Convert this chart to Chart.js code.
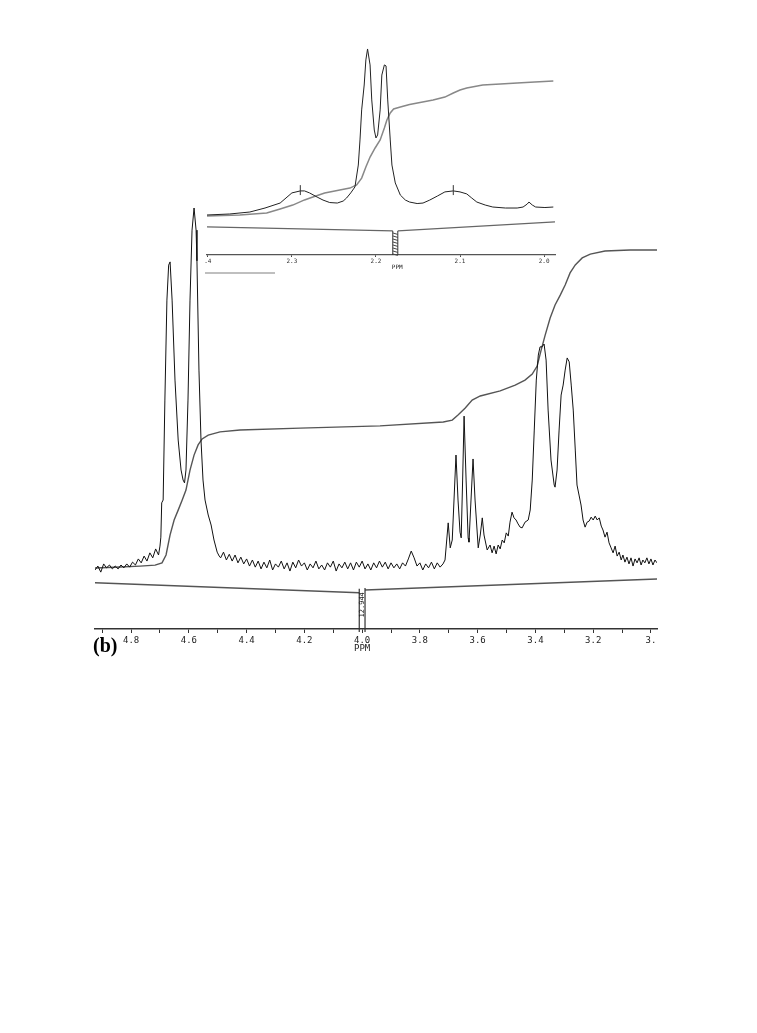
<!DOCTYPE html>
<html>
<head>
<meta charset="utf-8">
<script src="https://cdn.jsdelivr.net/npm/chart.js@4"></script>
<style>
  html, body { margin: 0; padding: 0; background: #ffffff; }
  #wrap { position: relative; width: 757px; height: 1033px; background: #ffffff; }
  canvas { position: absolute; left: 0; top: 0; }
</style>
</head>
<body>
<div id="wrap">
  <canvas id="mainChart" width="757" height="1033"></canvas>
  <canvas id="insetChart" width="757" height="300"></canvas>
</div>
<script>
// ---------------- DATA ----------------
// Main spectrum: [ppm, intensity] (tallest peak = 100)
const mainSpectrum = [
  [4.925,-1.4],[4.915,-0.3],[4.905,-2.0],[4.895,0.3],[4.885,-0.8],[4.875,0.0],[4.865,-1.1],[4.855,-0.3],
  [4.845,-1.1],[4.835,0.0],[4.825,-0.8],[4.815,0.3],[4.805,-0.6],[4.795,0.8],[4.785,0.0],[4.775,1.7],
  [4.765,0.6],[4.755,2.5],[4.745,1.1],[4.735,3.4],[4.725,2.0],[4.715,4.5],[4.705,2.8],[4.700,5.3],
  [4.697,7.8],[4.694,17.4],[4.689,18.2],[4.683,46.2],[4.676,74.2],[4.670,84.0],[4.665,84.9],[4.658,74.2],
  [4.648,51.8],[4.637,35.0],[4.627,26.6],[4.620,23.8],[4.615,23.0],[4.610,26.6],[4.603,46.2],[4.596,74.2],
  [4.589,93.8],[4.582,100.0],[4.575,93.8],[4.572,85.2],[4.565,54.6],[4.558,35.0],[4.551,23.8],[4.544,18.2],
  [4.533,14.0],[4.523,11.2],[4.513,7.0],[4.502,3.6],[4.495,2.5],
  [4.490,2.0],[4.480,3.6],[4.470,1.4],[4.460,3.0],[4.450,1.1],[4.440,2.8],[4.430,0.6],[4.420,2.2],
  [4.410,0.3],[4.400,1.7],[4.390,-0.3],[4.380,1.4],[4.370,-0.6],[4.360,1.1],[4.350,-1.1],[4.340,0.8],
  [4.330,-0.8],[4.320,1.4],[4.310,-1.4],[4.300,0.3],[4.290,-0.6],[4.280,1.1],[4.270,-1.1],[4.260,0.6],
  [4.250,-1.7],[4.240,0.8],[4.230,-0.8],[4.220,1.4],[4.210,-0.3],[4.200,0.6],[4.190,-1.4],[4.180,0.3],
  [4.170,-0.8],[4.160,1.1],[4.150,-1.1],[4.140,0.0],[4.130,-1.4],[4.120,0.6],[4.110,-0.6],[4.100,1.1],
  [4.090,-1.7],[4.080,0.3],[4.070,-0.8],[4.060,0.8],[4.050,-1.1],[4.040,0.6],[4.030,-1.4],[4.020,0.8],
  [4.010,-0.6],[4.000,1.1],[3.990,-1.1],[3.980,0.3],[3.970,-1.4],[3.960,0.6],[3.950,-0.8],[3.940,1.1],
  [3.930,-0.6],[3.920,0.8],[3.910,-1.1],[3.900,0.6],[3.890,-0.8],[3.880,0.3],[3.870,-1.1],[3.860,0.6],
  [3.850,-0.3],[3.840,1.7],[3.830,3.9],[3.820,2.0],[3.810,-0.3],[3.800,0.6],[3.790,-1.4],[3.780,0.3],
  [3.770,-0.8],[3.760,0.8],[3.750,-1.1],[3.740,0.6],[3.730,-0.6],[3.720,0.3],
  [3.713,1.4],[3.702,11.8],[3.695,4.8],[3.688,7.0],[3.675,30.8],[3.668,18.2],[3.661,9.2],[3.657,7.6],
  [3.652,23.8],[3.647,41.7],[3.640,23.8],[3.633,7.6],[3.630,6.4],[3.623,18.2],[3.616,29.7],[3.609,18.2],
  [3.598,4.8],[3.591,8.4],[3.584,13.2],[3.578,8.4],[3.567,4.2],[3.557,5.6],[3.550,3.4],[3.543,5.3],
  [3.536,3.1],[3.529,5.6],[3.522,4.5],[3.515,7.0],[3.508,6.2],[3.501,9.0],[3.494,8.1],[3.488,12.0],
  [3.481,14.8],[3.474,13.2],[3.467,12.6],[3.460,11.5],[3.453,10.6],[3.446,10.4],[3.436,12.0],[3.425,12.6],
  [3.418,15.4],[3.411,23.8],[3.404,37.8],[3.397,51.8],[3.390,58.8],[3.384,61.1],[3.377,61.1],[3.370,61.9],
  [3.363,57.4],[3.356,43.4],[3.346,29.4],[3.335,22.4],[3.332,21.8],[3.325,26.6],[3.318,37.8],[3.311,47.6],
  [3.304,50.4],[3.297,54.6],[3.290,58.0],[3.283,56.9],[3.276,50.4],[3.269,43.4],[3.262,32.2],[3.256,22.4],
  [3.249,19.6],[3.242,16.8],[3.235,12.6],[3.228,10.6],[3.221,12.0],[3.214,12.3],[3.207,13.4],[3.200,12.6],
  [3.193,13.7],[3.186,12.6],[3.179,13.2],[3.172,10.9],[3.166,9.8],[3.159,7.8],[3.152,9.2],[3.145,6.2],
  [3.138,4.8],[3.131,3.4],[3.124,5.3],[3.117,2.5],[3.110,3.6],[3.103,1.4],[3.097,2.8],[3.090,0.8],
  [3.083,2.2],[3.076,0.3],[3.069,2.0],[3.062,-0.3],[3.055,1.7],[3.048,0.6],[3.041,2.0],[3.034,0.0],
  [3.028,1.4],[3.021,0.6],[3.014,2.0],[3.007,0.3],[3.000,1.7],[2.993,0.0],[2.986,1.4],[2.979,0.6]
];
// Main integral trace: [ppm, percent of total]
const mainIntegral = [
  [4.925,0.0],[4.838,0.3],[4.769,0.6],[4.717,0.9],[4.693,1.6],[4.679,4.1],[4.665,10.4],[4.651,15.1],
  [4.637,18.2],[4.623,21.4],[4.610,24.5],[4.596,30.8],[4.582,35.5],[4.568,38.7],[4.554,40.6],[4.533,41.8],
  [4.492,42.8],[4.423,43.4],[4.215,44.0],[3.938,44.7],[3.719,45.9],[3.688,46.5],[3.668,48.1],[3.643,50.3],
  [3.619,52.8],[3.591,54.1],[3.522,55.7],[3.470,57.5],[3.436,59.1],[3.411,61.0],[3.394,63.5],[3.380,68.6],
  [3.366,73.3],[3.349,78.6],[3.332,82.7],[3.314,85.8],[3.297,89.0],[3.280,92.8],[3.262,95.3],[3.238,97.5],
  [3.210,98.7],[3.159,99.7],[3.072,100.0],[2.979,100.0]
];
// Integral reference line (two segments either side of the value box)
const mainIntBaseLeft  = [[4.925,-5.0],[4.010,-7.8]];
const mainIntBaseRight = [[3.990,-7.0],[2.979,-3.9]];
const mainIntegralValue = '12.944';
const mainBoxPpm = [4.010, 3.990];
const mainTickValues = [4.9,4.8,4.7,4.6,4.5,4.4,4.3,4.2,4.1,4.0,3.9,3.8,3.7,3.6,3.5,3.4,3.3,3.2,3.1,3.0];
const mainTickLabels = ['','4.8','','4.6','','4.4','','4.2','','4.0','','3.8','','3.6','','3.4','','3.2','','3.'];
const mainRange = [2.979, 4.925];

// Inset (expanded 2.0-2.4 ppm region)
const insetSpectrum = [
  [2.401,0.0],[2.374,0.6],[2.350,1.8],[2.332,4.2],[2.314,7.2],[2.300,13.3],[2.290,14.5],[2.285,14.5],
  [2.279,13.3],[2.270,10.8],[2.263,9.0],[2.255,7.5],[2.246,7.2],[2.239,8.4],[2.235,10.2],[2.230,13.3],
  [2.225,16.9],[2.221,30.1],[2.219,45.2],[2.217,63.3],[2.214,78.3],[2.212,93.4],[2.210,100.0],[2.207,90.4],
  [2.205,69.3],[2.202,51.2],[2.200,46.4],[2.198,48.2],[2.195,63.3],[2.193,84.3],[2.190,90.4],[2.188,89.8],
  [2.186,69.3],[2.183,45.2],[2.181,30.1],[2.177,19.3],[2.171,12.0],[2.165,9.0],[2.160,7.8],[2.151,6.9],
  [2.144,7.2],[2.136,9.0],[2.127,11.4],[2.118,13.9],[2.108,14.5],[2.100,13.9],[2.092,12.7],[2.086,10.2],
  [2.080,7.8],[2.070,6.0],[2.061,4.8],[2.046,4.2],[2.032,4.2],[2.025,4.8],[2.020,6.6],[2.018,7.8],
  [2.014,6.0],[2.010,4.8],[1.999,4.5],[1.989,4.8]
];
const insetIntegral = [
  [2.401,0.0],[2.362,0.7],[2.330,2.2],[2.314,5.2],[2.299,8.1],[2.285,11.9],[2.275,14.1],[2.261,17.0],
  [2.243,19.3],[2.231,20.7],[2.223,23.0],[2.217,28.1],[2.212,36.3],[2.207,43.7],[2.201,50.4],[2.195,56.3],
  [2.190,65.2],[2.187,71.1],[2.183,76.3],[2.179,79.3],[2.171,80.7],[2.160,82.6],[2.132,85.9],[2.118,88.1],
  [2.108,91.1],[2.100,93.3],[2.092,94.8],[2.073,97.0],[2.052,97.8],[2.032,98.5],[2.011,99.3],[1.989,100.0]
];
const insetIntBaseLeft  = [[2.401,-7.2],[2.180,-9.6]];
const insetIntBaseRight = [[2.174,-9.6],[1.987,-4.2]];
const insetBoxPpm = [2.180, 2.174];
const insetPeakMarks = [2.290, 2.108];
const insetTickValues = [2.4, 2.3, 2.2, 2.1, 2.0];
const insetTickLabels = ['.4', '2.3', '2.2', '2.1', '2.0'];
const insetRange = [1.987, 2.401];

// ---------------- HELPERS ----------------
const pts = arr => arr.map(([x, y]) => ({ x, y }));
const lineDs = (arr, axis, color, width) => ({
  data: pts(arr), yAxisID: axis, borderColor: color, borderWidth: width,
  pointRadius: 0, tension: 0, fill: false
});
const plotFont = 'DejaVu Sans Mono';

// ---------------- MAIN CHART ----------------
const mainDecor = {
  id: 'mainDecor',
  afterDraw(chart) {
    const { ctx, chartArea, scales } = chart;
    const x = scales.x, ys = scales.ySpec;
    const xl = x.getPixelForValue(mainBoxPpm[0]);
    const xr = x.getPixelForValue(mainBoxPpm[1]);
    const bottom = chartArea.bottom;
    ctx.save();
    ctx.strokeStyle = '#333';
    ctx.lineWidth = 1.2;
    ctx.beginPath();
    ctx.moveTo(xl, ys.getPixelForValue(mainIntBaseLeft[1][1]) - 4);
    ctx.lineTo(xl, bottom + 3);
    ctx.moveTo(xr, ys.getPixelForValue(mainIntBaseRight[0][1]) - 2);
    ctx.lineTo(xr, bottom + 3);
    ctx.stroke();
    // integral value, rotated
    ctx.fillStyle = '#222';
    ctx.font = '7px ' + plotFont;
    ctx.translate((xl + xr) / 2 + 0.5, ys.getPixelForValue(-7.8) + 12);
    ctx.rotate(-Math.PI / 2);
    ctx.textAlign = 'center';
    ctx.textBaseline = 'middle';
    ctx.fillText(mainIntegralValue, 0, 0);
    ctx.restore();

    ctx.save();
    ctx.fillStyle = '#222';
    ctx.font = '9px ' + plotFont;
    ctx.textAlign = 'center';
    ctx.textBaseline = 'middle';
    ctx.fillText('PPM', (xl + xr) / 2, bottom + 20);
    ctx.font = 'bold 20px "Liberation Serif"';
    ctx.textAlign = 'left';
    ctx.fillStyle = '#000';
    ctx.fillText('(b)', chartArea.left - 2, bottom + 18);
    ctx.restore();
  }
};

new Chart(document.getElementById('mainChart'), {
  type: 'line',
  data: {
    datasets: [
      lineDs(mainSpectrum, 'ySpec', '#111', 1),
      lineDs(mainIntegral, 'yInt', '#555', 1.4),
      lineDs(mainIntBaseLeft, 'ySpec', '#555', 1.5),
      lineDs(mainIntBaseRight, 'ySpec', '#555', 1.5)
    ]
  },
  options: {
    responsive: false,
    animation: false,
    devicePixelRatio: 1,
    layout: { padding: { left: 95, right: 100, top: 200, bottom: 374 } },
    plugins: { legend: { display: false }, tooltip: { enabled: false } },
    scales: {
      x: {
        type: 'linear', position: 'bottom', reverse: true,
        min: mainRange[0], max: mainRange[1],
        afterBuildTicks: s => { s.ticks = mainTickValues.map(v => ({ value: v })); },
        afterFit: s => { s.height = 30; },
        border: { display: true, color: '#333', width: 1.5 },
        grid: { drawOnChartArea: false, drawTicks: true, tickLength: 4, color: '#333', lineWidth: 1 },
        ticks: {
          autoSkip: false, maxRotation: 0, padding: 2, color: '#222',
          font: { family: plotFont, size: 9 },
          callback: (v, i) => mainTickLabels[i]
        }
      },
      ySpec: { type: 'linear', display: false, min: -17.93, max: 102.24 },
      yInt: { type: 'linear', display: false, min: -19.18, max: 115.72 }
    }
  },
  plugins: [mainDecor]
});

// ---------------- INSET CHART ----------------
const insetDecor = {
  id: 'insetDecor',
  afterDraw(chart) {
    const { ctx, chartArea, scales } = chart;
    const x = scales.x, ys = scales.ySpec;
    const xl = x.getPixelForValue(insetBoxPpm[0]);
    const xr = x.getPixelForValue(insetBoxPpm[1]);
    const top = ys.getPixelForValue(insetIntBaseLeft[1][1]);
    const bottom = chartArea.bottom;
    ctx.save();
    ctx.strokeStyle = '#333';
    ctx.lineWidth = 1;
    ctx.beginPath();
    ctx.moveTo(xl, top); ctx.lineTo(xl, bottom);
    ctx.moveTo(xr, top); ctx.lineTo(xr, bottom);
    ctx.stroke();
    // hatched fill of the tiny box
    ctx.lineWidth = 1;
    ctx.strokeStyle = '#444';
    for (let yy = top + 2; yy < bottom - 1; yy += 3) {
      ctx.beginPath();
      ctx.moveTo(xl, yy); ctx.lineTo(xr, yy + 1.5);
      ctx.stroke();
    }
    // small marks above peaks
    ctx.strokeStyle = '#333';
    insetPeakMarks.forEach(p => {
      const px = x.getPixelForValue(p);
      ctx.beginPath();
      ctx.moveTo(px, ys.getPixelForValue(12));
      ctx.lineTo(px, ys.getPixelForValue(18));
      ctx.stroke();
    });
    // PPM label
    ctx.fillStyle = '#222';
    ctx.font = '6px ' + plotFont;
    ctx.textAlign = 'center';
    ctx.textBaseline = 'middle';
    ctx.fillText('PPM', (xl + xr) / 2 + 2, bottom + 12);
    // faint scan rule below the inset axis
    ctx.strokeStyle = '#aaa';
    ctx.lineWidth = 1.5;
    ctx.beginPath();
    ctx.moveTo(chartArea.left - 2, bottom + 18);
    ctx.lineTo(chartArea.left + 68, bottom + 18);
    ctx.stroke();
    ctx.restore();
  }
};

new Chart(document.getElementById('insetChart'), {
  type: 'line',
  data: {
    datasets: [
      lineDs(insetSpectrum, 'ySpec', '#222', 1),
      lineDs(insetIntegral, 'yInt', '#888', 1.5),
      lineDs(insetIntBaseLeft, 'ySpec', '#666', 1.3),
      lineDs(insetIntBaseRight, 'ySpec', '#666', 1.3)
    ]
  },
  options: {
    responsive: false,
    animation: false,
    devicePixelRatio: 1,
    layout: { padding: { left: 207, right: 202, top: 45, bottom: 27 } },
    plugins: { legend: { display: false }, tooltip: { enabled: false } },
    scales: {
      x: {
        type: 'linear', position: 'bottom', reverse: true,
        min: insetRange[0], max: insetRange[1],
        afterBuildTicks: s => { s.ticks = insetTickValues.map(v => ({ value: v })); },
        afterFit: s => { s.height = 18; },
        border: { display: true, color: '#555', width: 1.3 },
        grid: { drawOnChartArea: false, drawTicks: true, tickLength: 2, color: '#444', lineWidth: 1 },
        ticks: {
          autoSkip: false, maxRotation: 0, padding: 1, color: '#333',
          font: { family: plotFont, size: 6 },
          callback: (v, i) => insetTickLabels[i]
        }
      },
      ySpec: { type: 'linear', display: false, min: -24.1, max: 102.4 },
      yInt: { type: 'linear', display: false, min: -28.9, max: 126.7 }
    }
  },
  plugins: [insetDecor]
});
</script>
</body>
</html>
